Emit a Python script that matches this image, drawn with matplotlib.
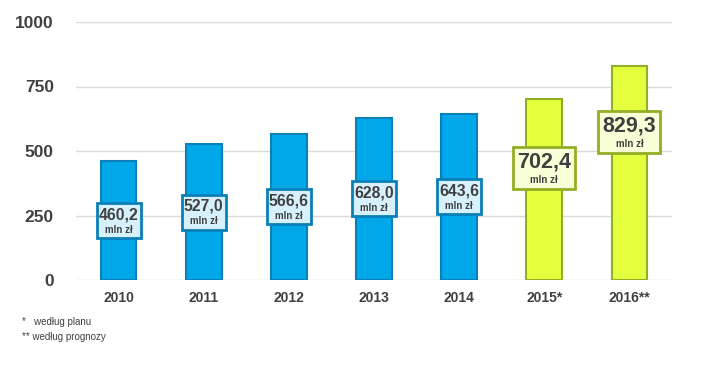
import matplotlib.pyplot as plt
from matplotlib.patches import Rectangle

plt.rcParams['font.family'] = ['Liberation Sans', 'DejaVu Sans']

# --- data ---
years = ["2010", "2011", "2012", "2013", "2014", "2015*", "2016**"]
values = [460.2, 527.0, 566.6, 628.0, 643.6, 702.4, 829.3]
labels = ["460,2", "527,0", "566,6", "628,0", "643,6", "702,4", "829,3"]
is_forecast = [False, False, False, False, False, True, True]
yticks = [0, 250, 500, 750, 1000]
notes = ["*   według planu", "** według prognozy"]

BLUE, BLUE_EDGE, BLUE_BOX = "#00A8EA", "#0B7FB8", "#D7F1FC"
GREEN, GREEN_EDGE, GREEN_BOX = "#E4FF3E", "#92AE24", "#F9FFD6"
TEXT = "#404040"

fig = plt.figure(figsize=(7.01, 3.80), dpi=100)
ax = fig.add_axes([76 / 701, 100 / 380, 596 / 701, 258 / 380])
ax.set_xlim(-0.5, len(years) - 0.5)
ax.set_ylim(0, 1000)

# pixel -> data helpers
px_x = (len(years)) / 596.0
px_y = 1000 / 258.0

for i, (v, f) in enumerate(zip(values, is_forecast)):
    ax.bar(i, v, width=0.42, color=GREEN if f else BLUE,
           edgecolor=GREEN_EDGE if f else BLUE_EDGE, linewidth=1.5, zorder=3)

    if f:
        ly = v * (0.62 if i == 5 else 0.69)
        bw, bh = 62, 42
        big, small, face, edge = 15.5, 7, GREEN_BOX, GREEN_EDGE
        up, down = 6, 12
    else:
        ly = v * 0.5
        bw, bh = 44, 35
        big, small, face, edge = 11.3, 7, BLUE_BOX, BLUE_EDGE
        up, down = 6, 9
    ax.add_patch(Rectangle((i - bw * px_x / 2, ly - bh * px_y / 2),
                           bw * px_x, bh * px_y, facecolor=face,
                           edgecolor=edge, linewidth=2, zorder=4))
    ax.text(i, ly + up * px_y, labels[i], ha="center", va="center",
            fontsize=big, fontweight="bold", color=TEXT, zorder=5)
    ax.text(i, ly - down * px_y, "mln zł", ha="center", va="center",
            fontsize=small, fontweight="bold", color=TEXT, zorder=5)

ax.set_yticks(yticks)
ax.set_yticklabels([str(t) for t in yticks], fontsize=12.5, fontweight="bold",
                   color=TEXT)
ax.set_xticks(list(range(len(years))))
ax.set_xticklabels(years, fontsize=10, fontweight="bold", color=TEXT)
ax.tick_params(axis="both", length=0)
ax.tick_params(axis="y", pad=16)
ax.tick_params(axis="x", pad=8)
ax.grid(axis="y", color="#D9D9D9", linewidth=1, zorder=0)
for s in ax.spines.values():
    s.set_visible(False)

fig.text(22 / 701, 1 - 322 / 380, notes[0], fontsize=7, color=TEXT,
         va="center")
fig.text(22 / 701, 1 - 337 / 380, notes[1], fontsize=7, color=TEXT,
         va="center")

fig.savefig("out.png", dpi=100, facecolor="white")
